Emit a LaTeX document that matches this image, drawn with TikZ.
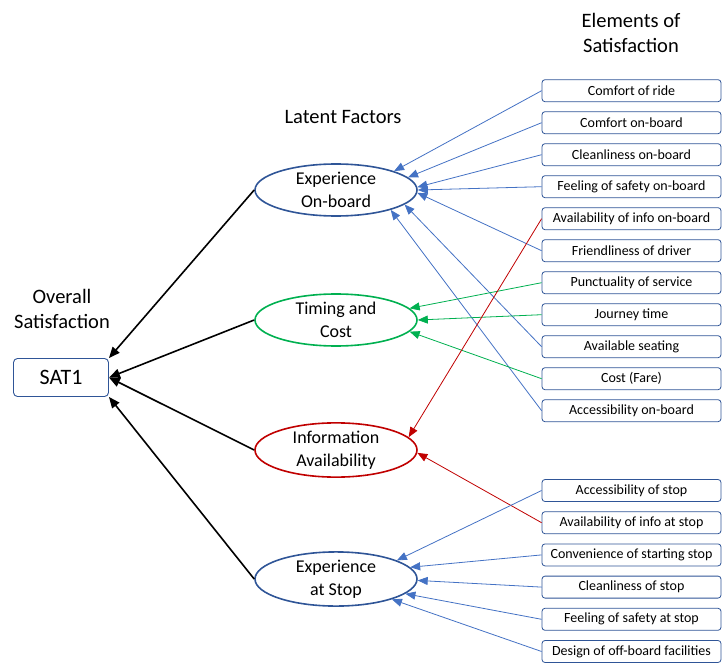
\documentclass[tikz,border=0pt]{standalone}
\usepackage{fontspec}
\setmainfont{Carlito}
\usepackage{xcolor}
\usetikzlibrary{shapes.geometric,positioning,arrows.meta}

\definecolor{boxblue}{HTML}{2F5597}
\definecolor{lineblue}{HTML}{4472C4}
\definecolor{linegreen}{HTML}{00B050}
\definecolor{linered}{HTML}{C00000}

\tikzset{
    elem/.style={draw=boxblue, line width=0.8pt, rounded corners=3pt, minimum width=179pt, minimum height=22pt, inner sep=0pt, font=\fontsize{14}{16}\selectfont},
    factor/.style={ellipse, line width=1.6pt, minimum width=162pt, minimum height=52pt, inner sep=0pt, align=center, font=\fontsize{18}{23}\selectfont},
    title/.style={align=center, font=\fontsize{20.5}{25.5}\selectfont},
    feed/.style={line width=0.8pt, -{Triangle[length=10pt,width=8pt]}},
    load/.style={line width=1.6pt, -{Triangle[length=11pt,width=9pt]}}
}

\begin{document}
\begin{tikzpicture}[x=1pt, y=-1pt]
    \useasboundingbox (0,0) rectangle (722,668);

    % titles
    \node[title] (ttlall) at (62,309) {Overall\\Satisfaction};
    \node[title] (ttllat) at (343,117) {Latent Factors};
    \node[title] (ttlel) at (631,33) {Elements of\\Satisfaction};

    % overall satisfaction
    \node[draw=boxblue, line width=0.9pt, rounded corners=4pt, minimum width=95pt, minimum height=38pt, font=\fontsize{22}{26}\selectfont] (sat) at (61,377.5) {SAT1};

    % latent factors
    \node[factor, draw=boxblue] (onb) at (336,190) {Experience\\On-board};
    \node[factor, draw=linegreen] (time) at (336,320) {Timing and\\Cost};
    \node[factor, draw=linered] (info) at (336,450) {Information\\Availability};
    \node[factor, draw=boxblue] (stop) at (336,579) {Experience\\at Stop};

    % elements
    \foreach \lbl [count=\i] in {Comfort of ride, Comfort on-board, Cleanliness on-board, Feeling of safety on-board, Availability of info on-board, Friendliness of driver, Punctuality of service, Journey time, Available seating, Cost (Fare), Accessibility on-board}
        \node[elem] (e\i) at (631.5,{90.7+32*(\i-1)}) {\lbl};
    \foreach \lbl [count=\i] in {Accessibility of stop, Availability of info at stop, Convenience of starting stop, Cleanliness of stop, Feeling of safety at stop, Design of off-board facilities}
        \node[elem] (s\i) at (631.5,{490.5+32.2*(\i-1)}) {\lbl};

    % elements -> factors
    \draw[feed, lineblue] (e1.west) -- (onb.18);
    \draw[feed, lineblue] (e2.west) -- (onb.10);
    \draw[feed, lineblue] (e3.west) -- (onb.2);
    \draw[feed, lineblue] (e4.west) -- (onb.0);
    \draw[feed, lineblue] (e6.west) -- (onb.-2);
    \draw[feed, lineblue] (e9.west) -- (onb.-12);
    \draw[feed, lineblue] (e11.west) -- (onb.-20);

    \draw[feed, linegreen] (e7.west) -- (time.9);
    \draw[feed, linegreen] (e8.west) -- (time.0);
    \draw[feed, linegreen] (e10.west) -- (time.-9);

    \draw[feed, linered] (e5.west) -- (info.10);
    \draw[feed, linered] (s2.west) -- (info.-2);

    \draw[feed, lineblue] (s1.west) -- (stop.17);
    \draw[feed, lineblue] (s3.west) -- (stop.9);
    \draw[feed, lineblue] (s4.west) -- (stop.-1);
    \draw[feed, lineblue] (s5.west) -- (stop.-12);
    \draw[feed, lineblue] (s6.west) -- (stop.-20);

    % factors -> overall
    \draw[load] (onb.west) -- (sat.north east);
    \draw[load] (time.west) -- (sat.east);
    \draw[load] (info.west) -- (sat.east);
    \draw[load] (stop.west) -- (sat.south east);
\end{tikzpicture}
\end{document}
